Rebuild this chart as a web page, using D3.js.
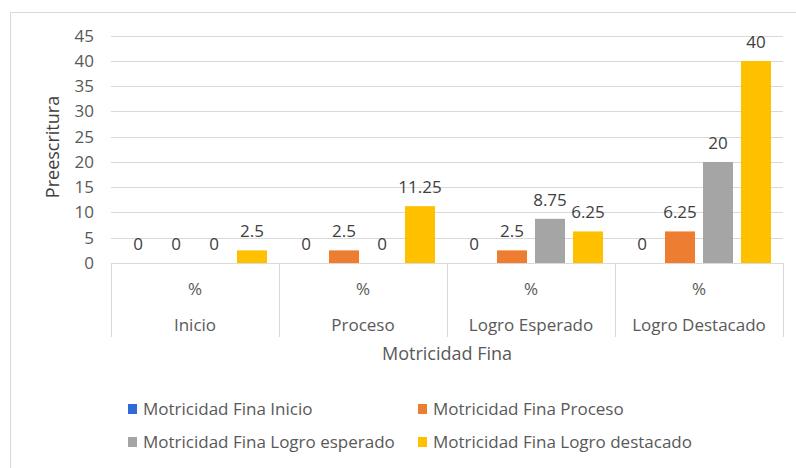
<!DOCTYPE html>
<html><head><meta charset="utf-8">
<script src="https://cdn.jsdelivr.net/npm/d3@7"></script>
<style>body{margin:0;background:#fff}svg{display:block}text{font-family:"Open Sans",sans-serif}</style>
</head><body><div id="c"></div>
<script>
const categories = ["Inicio","Proceso","Logro Esperado","Logro Destacado"];
const subLabel = "%";
const seriesNames = ["Motricidad Fina Inicio","Motricidad Fina Proceso","Motricidad Fina Logro esperado","Motricidad Fina Logro destacado"];
const serInicio = [0,0,0,0];
const serProceso = [0,2.5,2.5,6.25];
const serEsperado = [0,0,8.75,20];
const serDestacado = [2.5,11.25,6.25,40];
const yTicks = [0,5,10,15,20,25,30,35,40,45];
const colors = ["#2e6bd9","#ED7D31","#A5A5A5","#FFC000"];
const seriesValues = [serInicio,serProceso,serEsperado,serDestacado];

const W=796,H=468;
const svg=d3.select("#c").append("svg").attr("width",W).attr("height",H);
// frame
svg.append("path").attr("d","M10.5,468 V12.5 H796").attr("fill","none").attr("stroke","#d9d9d9");

const L=111,R=783,T=35.7,B=263;
const x0=d3.scaleBand().domain(categories).range([L,R]).padding(0);
const x1=d3.scaleBand().domain(d3.range(4)).range([0,x0.bandwidth()]).paddingInner(0.21).paddingOuter(0.316);
const y=d3.scaleLinear().domain([0,45]).range([B,T]);

// gridlines
svg.append("g").selectAll("line").data(yTicks.filter(d=>d>0)).join("line")
 .attr("x1",L).attr("x2",R).attr("y1",d=>Math.round(y(d))+0.5).attr("y2",d=>Math.round(y(d))+0.5)
 .attr("stroke","#d9d9d9").attr("stroke-width",1);

// y axis labels
const ya=svg.append("g").attr("transform",`translate(${L},0)`)
 .call(d3.axisLeft(y).tickValues(yTicks).tickSize(0).tickPadding(17));
ya.select(".domain").remove();
ya.selectAll("text").attr("font-size",17).attr("fill","#595959").style("font-family",null);

// bars
const g=svg.append("g");
categories.forEach((c,ci)=>{
  seriesValues.forEach((s,si)=>{
    const v=s[ci];
    const bx=x0(c)+x1(si);
    g.append("rect").attr("x",bx).attr("width",x1.bandwidth())
      .attr("y",y(v)).attr("height",B-y(v)).attr("fill",colors[si]);
    g.append("text").attr("x",bx+x1.bandwidth()/2).attr("y",y(v)-13)
      .attr("text-anchor","middle").attr("font-size",17).attr("fill","#404040").text(v);
  });
});

// category table
svg.append("line").attr("x1",L).attr("x2",R).attr("y1",B+0.5).attr("y2",B+0.5).attr("stroke","#d9d9d9");
const bounds=categories.map(c=>x0(c)).concat([R]);
svg.append("g").selectAll("line").data(bounds).join("line")
 .attr("x1",d=>Math.round(d)+0.5).attr("x2",d=>Math.round(d)+0.5).attr("y1",B).attr("y2",337)
 .attr("stroke","#d9d9d9");
categories.forEach(c=>{
  const cx=x0(c)+x0.bandwidth()/2;
  svg.append("text").attr("x",cx).attr("y",295).attr("text-anchor","middle").attr("font-size",17).attr("fill","#595959").text(subLabel);
  svg.append("text").attr("x",cx).attr("y",331).attr("text-anchor","middle").attr("font-size",17).attr("fill","#595959").text(c);
});

// axis titles
svg.append("text").attr("x",447).attr("y",360).attr("text-anchor","middle").attr("font-size",18).attr("fill","#595959").text("Motricidad Fina");
svg.append("text").attr("transform","translate(59,147) rotate(-90)").attr("text-anchor","middle").attr("font-size",18).attr("fill","#404040").text("Preescritura");

// legend
const lpos=[[128,409],[418,409],[128,442],[418,442]];
seriesNames.forEach((n,i)=>{
  const [lx,ly]=lpos[i];
  svg.append("rect").attr("x",lx).attr("y",ly-5).attr("width",9).attr("height",10).attr("fill",colors[i]);
  svg.append("text").attr("x",lx+15).attr("y",ly+6).attr("font-size",17).attr("fill","#595959").text(n);
});
</script></body></html>
